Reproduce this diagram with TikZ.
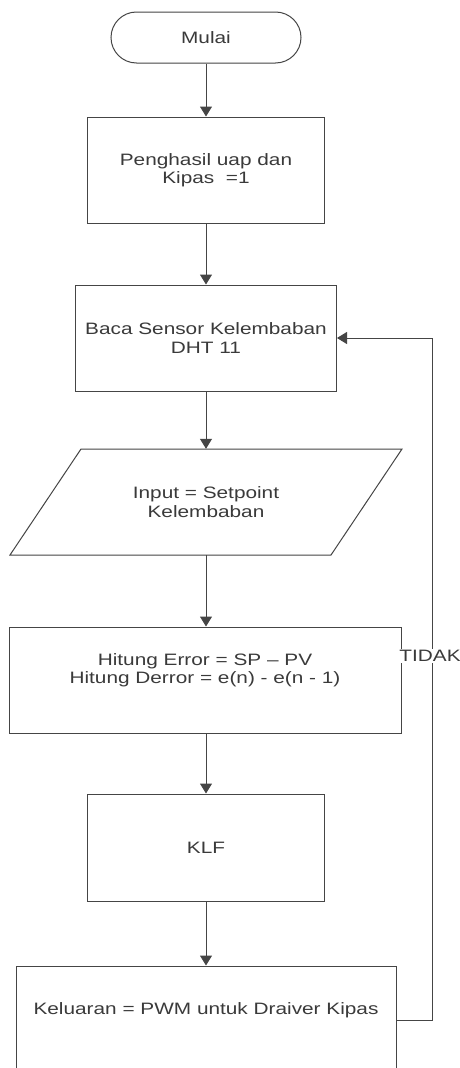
\documentclass[tikz,border=0pt]{standalone}
\usepackage{fontspec}
\setmainfont{Liberation Sans}[FakeStretch=1.26]
\usetikzlibrary{arrows.meta,calc}
\definecolor{ln}{HTML}{454545}
\definecolor{tx}{HTML}{3A3A3A}
\begin{document}
\begin{tikzpicture}[x=1pt,y=-1pt,
  every node/.style={text=tx, font=\fontsize{16.5}{18.5}\selectfont, align=center, inner sep=0pt},
  proc/.style={draw=ln, line width=1pt, rectangle, minimum height=106pt},
  term/.style={draw=ln, line width=1pt, rounded corners=25.5pt, minimum width=190pt, minimum height=51pt},
  edge/.style={draw=ln, line width=1pt},
  arr/.style={draw=ln, line width=1pt, -{Triangle[length=10pt,width=12pt]}},
  lbl/.style={fill=white, inner sep=1pt}
]
\clip (0,0) rectangle (460,1068);
\fill[white] (0,0) rectangle (460,1068);

\node[term] (start) at (206,37.5) {Mulai};
\node[proc, minimum width=237pt] (b2) at (206,170) {Penghasil uap dan\\Kipas\ \ =1};
\node[proc, minimum width=261pt] (b3) at (206,338) {Baca Sensor Kelembaban\\DHT 11};
\node[minimum width=250pt, minimum height=106pt] (par) at (206,502) {Input = Setpoint\\Kelembaban};
\draw[edge] ($(par.center)+(-125,-53)$) -- ($(par.center)+(196,-53)$) -- ($(par.center)+(125,53)$) -- ($(par.center)+(-196,53)$) -- cycle;
\node[proc, minimum width=392pt] (b5) at (205,680) {};
\node (b5t) at (205,670) {Hitung Error = SP – PV\\Hitung Derror = e(n) - e(n - 1)};
\node[proc, minimum width=237pt, minimum height=107pt] (klf) at (206,847.5) {KLF};
\node[proc, minimum width=380pt, minimum height=108pt] (b7) at (206,1020) {};
\node (b7t) at (206,1010) {Keluaran = PWM untuk Draiver Kipas};

\draw[arr] (start.south) -- (b2.north);
\draw[arr] (b2.south) -- (b3.north);
\draw[arr] (b3.south) -- (par.north);
\draw[arr] (par.south) -- (par.south |- b5.north);
\draw[arr] (klf.north |- b5.south) -- (klf.north);
\draw[arr] (klf.south) -- (b7.north);
\draw[arr] (b7.east) -- ++(36,0) |- (b3.east);
\node[lbl] (tidak) at (430,656) {TIDAK};
\end{tikzpicture}
\end{document}
